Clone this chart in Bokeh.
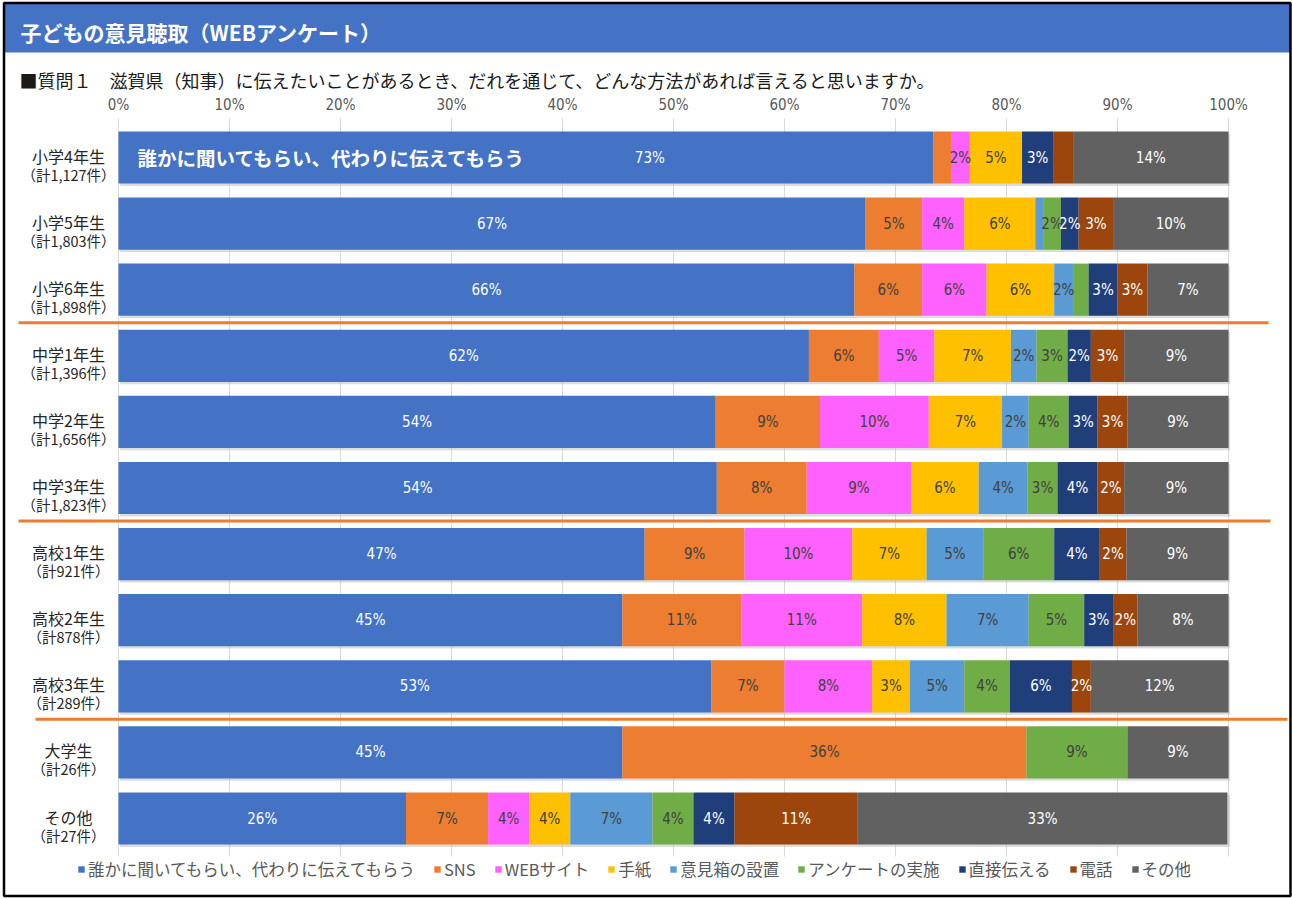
from bokeh.plotting import figure
from bokeh.models import Range1d, ColumnDataSource, Legend, LegendItem
from bokeh.core.properties import value
from bokeh.embed import file_html
from bokeh.resources import INLINE

# ---------------- data ----------------
grades = ["小学4年生", "小学5年生", "小学6年生", "中学1年生", "中学2年生", "中学3年生",
          "高校1年生", "高校2年生", "高校3年生", "大学生", "その他"]
counts = ["1,127", "1,803", "1,898", "1,396", "1,656", "1,823", "921", "878", "289", "26", "27"]

series_names = ["誰かに聞いてもらい、代わりに伝えてもらう", "SNS", "WEBサイト", "手紙", "意見箱の設置",
                "アンケートの実施", "直接伝える", "電話", "その他"]

v_someone = [73.4, 67.3, 66.3, 62.2, 53.8, 53.9, 47.4, 45.4, 53.4, 45.4, 25.9]
v_sns     = [1.6, 5.1, 6.1, 6.3, 9.4, 8.1, 9.0, 10.7, 6.6, 36.4, 7.4]
v_web     = [1.7, 3.8, 5.8, 5.0, 9.8, 9.4, 9.7, 10.9, 7.9, 0.0, 3.7]
v_letter  = [4.7, 6.4, 6.1, 6.9, 6.6, 6.1, 6.7, 7.6, 3.4, 0.0, 3.7]
v_box     = [0.0, 0.7, 1.7, 2.3, 2.4, 4.4, 5.1, 7.4, 4.9, 0.0, 7.4]
v_survey  = [0.0, 1.6, 1.4, 2.8, 3.6, 2.7, 6.4, 5.0, 4.1, 9.1, 3.7]
v_direct  = [2.8, 1.6, 2.6, 2.1, 2.6, 3.6, 4.1, 2.6, 5.6, 0.0, 3.7]
v_phone   = [1.8, 3.1, 2.7, 3.0, 2.7, 2.4, 2.4, 2.2, 1.7, 0.0, 11.1]
v_other   = [14.0, 10.4, 7.3, 9.4, 9.1, 9.4, 9.2, 8.2, 12.4, 9.1, 33.3]

series_values = [v_someone, v_sns, v_web, v_letter, v_box, v_survey, v_direct, v_phone, v_other]
unlabeled = [(0, 1), (0, 7), (1, 4), (2, 5)]   # (row, series) segments shown without a label
group_ends = [2, 5, 8]                          # divider lines after these rows
x_ticks = [0, 10, 20, 30, 40, 50, 60, 70, 80, 90, 100]

title_text = "子どもの意見聴取（WEBアンケート）"
question_text = "■質問１　滋賀県（知事）に伝えたいことがあるとき、だれを通じて、どんな方法があれば言えると思いますか。"

# ---------------- styling ----------------
colors = ["#4472C4", "#ED7D31", "#FF61FF", "#FFC000", "#5B9BD5", "#70AD47", "#203F7A", "#9C460E", "#616161"]
label_colors = ["white", "#404040", "#404040", "#404040", "#404040", "#404040", "white", "white", "white"]
JP = "Noto Sans CJK JP"
NARROW = "Liberation Sans Narrow, DejaVu Sans Condensed, Roboto, sans-serif"

W, H = 1292, 899
PX0, PPX = 118.0, 11.1      # page x of 0%, px per percent
ROW0, PPR = 157.0, 66.1     # page y of first row centre, px per row


def dx(px):
    return (px - PX0) / PPX


def dy(py):
    return (py - ROW0) / PPR


p = figure(width=W, height=H, output_backend="svg", toolbar_location=None,
           x_range=Range1d(dx(0), dx(W)), y_range=Range1d(dy(H), dy(0)),
           min_border=0, min_border_left=0, min_border_right=0, min_border_top=0, min_border_bottom=0)
p.axis.visible = False
p.grid.visible = False
p.outline_line_alpha = 0
p.background_fill_color = "white"
p.border_fill_color = "white"

# title band
p.quad(left=[dx(3)], right=[dx(1290)], top=[dy(3)], bottom=[dy(52)], color="#4472C4", line_alpha=0)
p.text(x=[dx(20)], y=[dy(31)], text=[title_text], text_color="white", text_font=value(JP),
       text_font_style="bold", text_font_size=value("21px"), text_baseline="middle", text_align="left")
p.text(x=[dx(19)], y=[dy(79)], text=[question_text], text_color="#1a1a1a", text_font=value(JP),
       text_font_size=value("18px"), text_baseline="middle", text_align="left")

# outer frame
p.quad(left=[dx(3.5)], right=[dx(1290)], top=[dy(2.5)], bottom=[dy(895.5)], fill_alpha=0,
       line_color="black", line_width=2.5)

# grid lines and tick labels
p.segment(x0=x_ticks, x1=x_ticks, y0=[dy(118)] * len(x_ticks), y1=[dy(856)] * len(x_ticks),
          line_color="#d9d9d9", line_width=1)
p.text(x=x_ticks, y=[dy(104)] * len(x_ticks), text=[f"{t}%" for t in x_ticks], text_color="#595959",
       text_font=value(NARROW), text_font_size=value("15px"), text_align="center", text_baseline="middle")

rows = list(range(len(grades)))

# bar shadow
p.hbar(y=[r + 0.035 for r in rows], left=[0.15] * len(rows), right=[100.15] * len(rows), height=0.79,
       fill_color="#bfbfbf", fill_alpha=0.55, line_alpha=0)

renderers = []
lab_x, lab_y, lab_t, lab_c, lab_off = [], [], [], [], []
cum = [0.0] * len(rows)
for si, vals in enumerate(series_values):
    left = cum[:]
    right = [l + v for l, v in zip(left, vals)]
    src = ColumnDataSource(dict(y=rows, left=left, right=right))
    r = p.hbar(y="y", left="left", right="right", height=0.79, source=src,
               fill_color=colors[si], line_alpha=0)
    renderers.append(r)
    for ri, v in enumerate(vals):
        if v <= 0 or (ri, si) in unlabeled:
            continue
        lab_x.append((left[ri] + right[ri]) / 2)
        lab_y.append(ri)
        lab_t.append(f"{v:.0f}%")
        lab_c.append(label_colors[si])
        lab_off.append(124 if (ri == 0 and si == 0) else 0)
    cum = right

p.text(x=lab_x, y=lab_y, text=lab_t, text_color=lab_c, x_offset=lab_off, text_font=value(NARROW),
       text_font_size=value("15px"), text_align="center", text_baseline="middle")

# series name written inside the first bar
p.text(x=[dx(137)], y=[0], text=[series_names[0]], text_color="white", text_font=value(JP),
       text_font_style="bold", text_font_size=value("19.5px"), text_align="left", text_baseline="middle")

# row labels
p.text(x=[dx(68)] * len(rows), y=[r - 0.03 for r in rows], text=grades, text_color="#262626",
       text_font=value(JP), text_font_size=value("16px"), text_align="center", text_baseline="middle")
p.text(x=[dx(68)] * len(rows), y=[r + 0.25 for r in rows], text=[f"（計{c}件）" for c in counts],
       text_color="#262626", text_font=value(JP), text_font_size=value("14.5px"),
       text_align="center", text_baseline="middle")

# group dividers
div_x0 = [dx(18), dx(18), dx(35)]
div_x1 = [dx(1268), dx(1270), dx(1287)]
p.segment(x0=div_x0, x1=div_x1, y0=[g + 0.5 for g in group_ends], y1=[g + 0.5 for g in group_ends],
          line_color="#ED7D31", line_width=3)

legend = Legend(items=[LegendItem(label=n, renderers=[r]) for n, r in zip(series_names, renderers)],
                orientation="horizontal", location=(77, 18), glyph_width=8, glyph_height=8,
                label_text_font=JP, label_text_font_size="16.5px", label_text_color="#595959",
                label_standoff=3, spacing=18, padding=0, margin=0, border_line_alpha=0,
                background_fill_alpha=0)
p.add_layout(legend, "center")

open("out.html", "w").write(file_html(p, INLINE))
